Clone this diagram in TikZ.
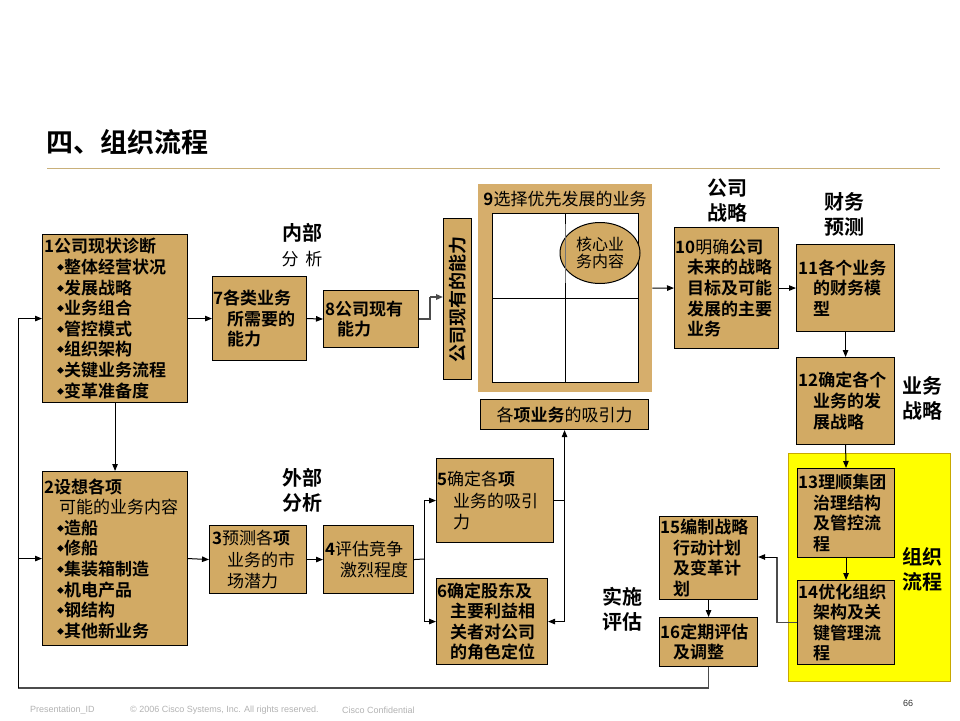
\documentclass[tikz,border=0pt]{standalone}
\usepackage{fontspec}
\setmainfont{Noto Sans CJK SC}[BoldFont={Noto Sans CJK SC Bold}]
\newfontfamily\arialf{Liberation Sans}
\usetikzlibrary{arrows.meta,shapes.geometric}
\definecolor{boxtan}{HTML}{D2AA64}
\definecolor{outertan}{HTML}{D6AE6C}
\definecolor{lineTan}{HTML}{C9B07A}
\definecolor{ybox}{HTML}{FFFF00}
\definecolor{yedge}{HTML}{C8A800}
\newcommand\ind{\hspace*{13pt}}
\newcommand\bul{\raisebox{3pt}{\fontsize{7}{7}\selectfont ◆}}
\newcommand\kai[1]{{\mdseries #1}}
\begin{document}
\begin{tikzpicture}[x=1pt,y=-1pt,
  box/.style={draw=black, line width=1.1pt, fill=boxtan, inner sep=0pt, anchor=north west},
  txt/.style={anchor=west, align=left, inner sep=0pt, font=\fontsize{17}{20.6}\selectfont\bfseries},
  lab/.style={align=center, inner sep=0pt, font=\fontsize{20}{25}\selectfont\bfseries},
  arr/.style={-{Triangle[length=7pt,width=5.5pt]}, line width=1pt},
  gline/.style={draw=black!70, line width=1.6pt},
  foot/.style={anchor=west, inner sep=0pt, text=black!30, font=\arialf\fontsize{9}{10}\selectfont}]
\useasboundingbox (0,0) rectangle (960,720);
% title
\node[anchor=west, inner sep=0pt, font=\fontsize{27}{30}\selectfont\bfseries] (title) at (46,142) {四、组织流程};
\draw[lineTan, line width=1pt] (47,168) -- (940,168);
% yellow region
\node[draw=yedge, fill=ybox, line width=1.2pt, minimum width=162pt, minimum height=228pt, inner sep=0pt, anchor=north west] (yb) at (788,453) {};
% boxes
\node[box, minimum width=145pt, minimum height=168pt] (b1) at (42,234) {};
\node[box, minimum width=145pt, minimum height=174pt] (b2) at (42,471) {};
\node[box, minimum width=94pt, minimum height=84pt] (b7) at (212,276) {};
\node[box, minimum width=95pt, minimum height=57pt] (b8) at (323,290) {};
\node[box, minimum width=97pt, minimum height=68pt] (b3) at (209,525) {};
\node[box, minimum width=90pt, minimum height=68pt] (b4) at (323,525) {};
\node[box, minimum width=117pt, minimum height=84pt] (b5) at (436,458) {};
\node[box, minimum width=111pt, minimum height=86pt] (b6) at (436,578) {};
\node[box, minimum width=28pt, minimum height=161pt] (vb) at (443,218) {};
\node[fill=outertan, minimum width=174pt, minimum height=208pt, inner sep=0pt, anchor=north west] (b9) at (478,184) {};
\node[box, minimum width=168pt, minimum height=30pt] (att) at (480,399) {};
\node[box, minimum width=104pt, minimum height=121pt] (b10) at (674,227) {};
\node[box, minimum width=98pt, minimum height=87pt] (b11) at (796,244) {};
\node[box, minimum width=98pt, minimum height=87pt] (b12) at (796,357) {};
\node[box, minimum width=97pt, minimum height=89pt] (b13) at (797,468) {};
\node[box, minimum width=97pt, minimum height=84pt] (b14) at (797,580) {};
\node[box, minimum width=98pt, minimum height=83pt] (b15) at (659,516) {};
\node[box, minimum width=98pt, minimum height=49pt] (b16) at (659,617) {};
% grid in box 9
\node[draw=black, line width=1pt, fill=white, minimum width=146pt, minimum height=169pt, inner sep=0pt, anchor=north west] (grid) at (492,213) {};
\draw[line width=1pt] (grid.north) -- (grid.south);
\draw[line width=1pt] (grid.west) -- (grid.east);
\node[ellipse, draw=black, line width=1pt, fill=boxtan, minimum width=80pt, minimum height=61pt, inner sep=0pt] (core) at (600,253) {};
\draw[black!55, line width=1pt] (grid.north |- 0,224) -- (grid.north |- 0,283);
\node[align=center, inner sep=0pt, font=\fontsize{16}{16.5}\selectfont] (tcore) at (core.center) {核心业\\务内容};
\node[inner sep=0pt, font=\fontsize{17}{20}\selectfont\bfseries] (t9) at (565,199) {9\kai{选择优先发展的业务}};
\node[rotate=90, inner sep=0pt, font=\fontsize{18}{20}\selectfont\bfseries] (tv) at (vb.center) {公司现有的能力};
\node[inner sep=0pt, font=\fontsize{17}{20}\selectfont\bfseries] (tatt) at (att.center) {\kai{各}项业务\kai{的吸引力}};
% box texts
\node[txt] (t1) at ([xshift=2pt]b1.west) {1公司现状诊断\\\ind\bul 整体经营状况\\\ind\bul 发展战略\\\ind\bul 业务组合\\\ind\bul 管控模式\\\ind\bul 组织架构\\\ind\bul 关键业务流程\\\ind\bul 变革准备度};
\node[txt] (t2) at ([xshift=2pt]b2.west) {2设想各项\\\hspace*{15pt}\kai{可能的业务内容}\\\ind\bul 造船\\\ind\bul 修船\\\ind\bul 集装箱制造\\\ind\bul 机电产品\\\ind\bul 钢结构\\\ind\bul 其他新业务};
\node[txt] (t7) at ([xshift=1pt]b7.west) {7各类业务\\\hspace*{14pt}所需要的\\\hspace*{14pt}能力};
\node[txt] (t8) at ([xshift=2pt]b8.west) {8公司现有\\\hspace*{12pt}能力};
\node[txt, font=\fontsize{17}{21.5}\selectfont\bfseries] (t3) at ([xshift=3pt]b3.west) {3\kai{预测各}项\\\hspace*{15pt}\kai{业务的市}\\\hspace*{15pt}\kai{场潜力}};
\node[txt, font=\fontsize{17}{21.5}\selectfont\bfseries] (t4) at ([xshift=2pt]b4.west) {4\kai{评估竞争}\\\hspace*{15pt}\kai{激烈程度}};
\node[txt, font=\fontsize{17}{21.5}\selectfont\bfseries] (t5) at ([xshift=1pt]b5.west) {5\kai{确定各}项\\\hspace*{16pt}\kai{业务的吸引}\\\hspace*{16pt}\kai{力}};
\node[txt] (t6) at ([xshift=1pt]b6.west) {6确定股东及\\\ind 主要利益相\\\ind 关者对公司\\\ind 的角色定位};
\node[txt] (t10) at ([xshift=1pt]b10.west) {10\kai{明确}公司\\\hspace*{12pt}未来的战略\\\hspace*{12pt}目标及可能\\\hspace*{12pt}发展的主要\\\hspace*{12pt}业务};
\node[txt] (t11) at ([xshift=2pt]b11.west) {11各个业务\\\hspace*{15pt}的财务模\\\hspace*{15pt}型};
\node[txt] (t12) at ([xshift=2pt]b12.west) {12确定各个\\\hspace*{15pt}业务的发\\\hspace*{15pt}展战略};
\node[txt] (t13) at ([xshift=1pt]b13.west) {13理顺集团\\\hspace*{15pt}治理结构\\\hspace*{15pt}及管控流\\\hspace*{15pt}程};
\node[txt] (t14) at ([xshift=1pt]b14.west) {14优化组织\\\hspace*{15pt}架构及关\\\hspace*{15pt}键管理流\\\hspace*{15pt}程};
\node[txt] (t15) at ([xshift=1pt]b15.west) {15编制战略\\\ind 行动计划\\\ind 及变革计\\\ind 划};
\node[txt] (t16) at ([xshift=1pt]b16.west) {16定期评估\\\ind 及调整};
% section labels
\node[lab] (l1a) at (302,233) {内部};
\node[inner sep=0pt, font=\fontsize{17}{20}\selectfont] (l1b) at (302,259) {分\hspace{7pt}析};
\node[lab] (l2) at (302,490) {外部\\分析};
\node[lab] (l3) at (727,201) {公司\\战略};
\node[lab] (l4) at (844,214) {财务\\预测};
\node[lab] (l5) at (922,398) {业务\\战略};
\node[lab] (l6) at (922,569) {组织\\流程};
\node[lab] (l7) at (622,609) {实施\\评估};
% connectors
\coordinate (c8) at (430,297);
\coordinate (c4) at (424,559);
\coordinate (c15) at (777,557);
\coordinate (cb) at (18,688);
\draw[arr] (b1.south) -- (b2.north);
\draw[arr] (b1.east) -- (b7.west);
\draw[arr] (b7.east) -- (b8.west);
\draw[gline] (b8.east) -| (c8);
\draw[arr, draw=black!70, line width=1.6pt] (c8) -- (c8 -| vb.west);
\draw[arr] (b9.east) -- (b10.west);
\draw[arr] (b10.east) -- (b11.west);
\draw[arr] (b11.south) -- (b12.north);
\draw[arr] (b12.south) -- (b13.north);
\draw[arr] (b13.south) -- (b14.north);
\draw[gline] (b14.west) -| (c15);
\draw[arr] (c15) -- (c15 -| b15.east);
\draw[arr] (b15.south) -- (b16.north);
\draw[gline] (b16.south) |- (cb);
\draw[arr] (cb) |- (b1.west);
\draw[arr] (cb |- b2.west) -- (b2.west);
\draw[arr] (b2.east) -- (b3.west);
\draw[arr] (b3.east) -- (b4.west);
\draw[line width=1pt] (b4.east) -- (c4);
\draw[arr] (c4) |- (b5.west);
\draw[arr] (c4) |- (b6.west);
\draw[arr] (b5.east) -| (att.south);
\coordinate (c56) at (att.south |- b6.east);
\draw[arr] (b5.east) -| (c56) -- (b6.east);
% footer
\node[foot] (f1) at (30,710) {Presentation\_ID};
\node[foot] (f2) at (130,710) {© 2006 Cisco Systems, Inc. All rights reserved.};
\node[foot] (f3) at (342,710) {Cisco Confidential};
\node[inner sep=0pt, text=black!80, font=\arialf\fontsize{9}{10}\selectfont] (pg) at (908,703) {66};
\end{tikzpicture}
\end{document}
